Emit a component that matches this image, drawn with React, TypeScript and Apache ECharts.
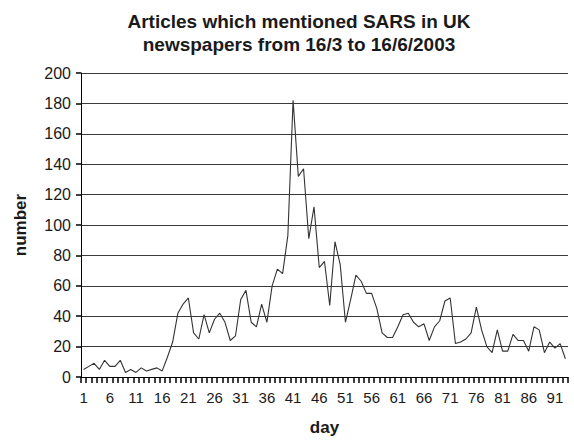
import React, { useEffect, useRef } from "react";
import * as echarts from "echarts";

const titleLines = ["Articles which mentioned SARS in UK", "newspapers from 16/3 to 16/6/2003"];
const xName = "day";
const yName = "number";
const days: string[] = Array.from({ length: 93 }, (_, i) => String(i + 1));
const articles: number[] = [
  5, 7, 9, 5, 11, 7, 7, 11, 3, 5,
  3, 6, 4, 5, 6, 4, 13, 23, 42, 48,
  52, 29, 25, 41, 29, 38, 42, 36, 24, 27,
  51, 57, 36, 33, 48, 36, 60, 71, 68, 93,
  182, 132, 137, 91, 112, 72, 76, 47, 89, 74,
  36, 51, 67, 63, 55, 55, 45, 29, 26, 26,
  33, 41, 42, 36, 33, 35, 24, 33, 37, 50,
  52, 22, 23, 25, 29, 46, 31, 20, 16, 31,
  17, 17, 28, 24, 24, 17, 33, 31, 16, 23,
  19, 22, 12,
];
const yMin = 0;
const yMax = 200;
const yStep = 20;

const FONT = "'Liberation Sans', Arial, sans-serif";

export default function App() {
  const ref = useRef<HTMLDivElement>(null);
  useEffect(() => {
    if (!ref.current) return;
    const chart = echarts.init(ref.current, null, { renderer: "svg" });
    chart.setOption({
      animation: false,
      textStyle: { fontFamily: FONT },
      graphic: [
        {
          type: "text",
          x: 299,
          y: 10,
          style: {
            text: titleLines.join("\n"),
            font: `bold 19px ${FONT}`,
            fill: "#1a1a1a",
            textAlign: "center",
            textVerticalAlign: "top",
            lineHeight: 23,
          },
        },
      ],
      grid: { left: 81, right: 6, top: 73, bottom: 64 },
      xAxis: {
        type: "category",
        data: days,
        boundaryGap: true,
        name: xName,
        nameLocation: "middle",
        nameGap: 42,
        nameTextStyle: { fontFamily: FONT, fontSize: 17, fontWeight: "bold", color: "#1a1a1a" },
        axisLine: { show: true, lineStyle: { color: "#000000", width: 1 } },
        axisTick: { show: true, interval: 0, length: 6, lineStyle: { color: "#000000", width: 1.5 } },
        axisLabel: { show: true, interval: 4, margin: 13, fontSize: 15, color: "#1a1a1a", fontFamily: FONT },
        splitLine: { show: false },
      },
      yAxis: {
        type: "value",
        min: yMin,
        max: yMax,
        interval: yStep,
        name: yName,
        nameLocation: "middle",
        nameGap: 52,
        nameTextStyle: { fontFamily: FONT, fontSize: 17, fontWeight: "bold", color: "#1a1a1a" },
        axisLine: { show: true, lineStyle: { color: "#000000", width: 1 } },
        axisTick: { show: true, length: 5, lineStyle: { color: "#000000", width: 1.5 } },
        axisLabel: { margin: 10, fontSize: 16, color: "#1a1a1a", fontFamily: FONT },
        splitLine: { show: true, lineStyle: { color: "#3a3a3a", width: 1 } },
      },
      series: [
        {
          type: "line",
          data: articles,
          symbol: "none",
          lineStyle: { color: "#333333", width: 1.1 },
        },
      ],
    });
    return () => chart.dispose();
  }, []);
  return (
    <div
      ref={ref}
      style={{ position: "fixed", left: 0, top: 0, width: 574, height: 441, background: "#ffffff" }}
    />
  );
}
